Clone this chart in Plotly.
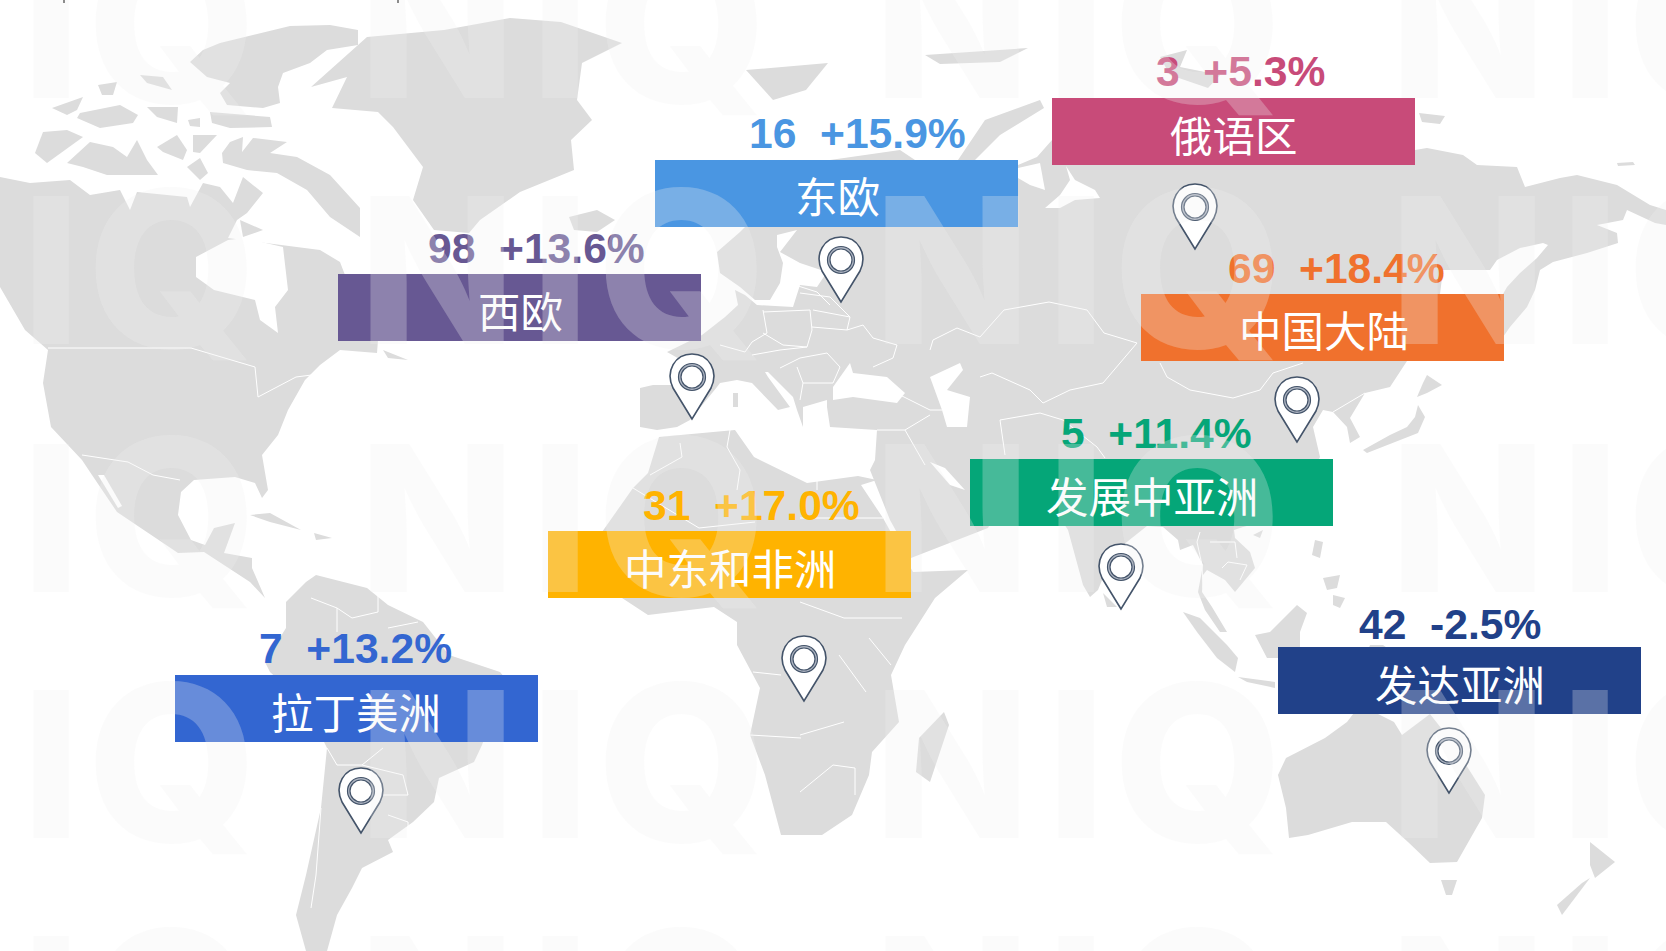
import plotly.graph_objects as go

W, H = 1666, 951

# ---------- chart values ----------
REGIONS = ["俄语区", "东欧", "西欧", "中国大陆", "发展中亚洲", "中东和非洲", "拉丁美洲", "发达亚洲"]
COUNTS = [3, 16, 98, 69, 5, 31, 7, 42]
GROWTH = ["+5.3%", "+15.9%", "+13.6%", "+18.4%", "+11.4%", "+17.0%", "+13.2%", "-2.5%"]
COLORS = ["#C84B79", "#4A96E2", "#675893", "#F0712D", "#05A678", "#FFB300", "#3366D1", "#214189"]

# ---------- placement ----------
BOX_LEFT = [1052, 655, 338, 1141, 970, 548, 175, 1278]
BOX_TOP = [98, 160, 274, 294, 459, 531, 675, 647]
BOX_W, BOX_H = 363, 67
VALUE_X = [1240, 857, 536, 1336, 1156, 751, 355, 1450]
VALUE_Y = [71, 133, 248, 268, 433, 505, 648, 624]
NAME_X = [1234, 837, 520, 1324, 1152, 730, 356, 1460]
NAME_Y = [133, 194, 309, 328, 494, 566, 710, 682]
PIN_X = [1195, 841, 692, 1297, 1121, 804, 361, 1449]
PIN_Y = [249, 302, 419, 442, 609, 701, 833, 793]

# ---------- map background (land, drawn in the picture's own pixel space) ----------
LAND = {
    "north_america": [(0,177),(30,183),(70,180),(90,195),(120,190),(130,210),(137,192),(187,197),(190,207),(203,183),(220,187),(233,203),(243,177),(263,193),(247,213),(237,220),(228,238),(283,245),(320,250),(340,262),(345,275),(338,300),(378,340),(377,353),(340,350),(320,365),(305,380),(288,410),(278,435),(262,455),(268,490),(262,498),(255,483),(235,477),(194,480),(181,492),(178,515),(191,540),(205,545),(214,528),(235,523),(224,553),(252,558),(252,568),(265,598),(250,582),(204,552),(178,553),(140,528),(117,512),(92,475),(82,460),(51,427),(43,383),(48,350),(25,330),(0,287)],
    "greenland": [(311,87),(367,37),(444,30),(510,18),(561,22),(622,43),(582,63),(577,100),(592,120),(571,140),(574,170),(520,192),(480,220),(469,233),(434,230),(413,200),(423,167),(393,127),(378,112),(332,108),(347,77)],
    "iceland": [(569,217),(597,210),(615,220),(597,232),(574,230)],
    "ellesmere": [(190,62),(203,50),(220,43),(260,33),(290,26),(330,25),(358,30),(358,45),(327,50),(310,63),(283,73),(278,87),(280,103),(263,108),(227,105),(220,93),(230,83),(207,77)],
    "devon": [(210,112),(270,117),(272,127),(230,128),(212,123)],
    "arctic_a": [(140,75),(163,77),(172,90),(147,83)],
    "arctic_b": [(52,108),(83,97),(77,110),(67,115)],
    "arctic_c": [(80,113),(120,105),(138,115),(133,123),(100,128),(77,118)],
    "arctic_d": [(147,107),(178,107),(177,123),(157,117)],
    "arctic_e": [(188,120),(200,118),(200,127),(190,126)],
    "arctic_f": [(98,85),(117,82),(113,95),(102,95)],
    "banks": [(35,153),(43,132),(67,130),(83,137),(47,163)],
    "victoria": [(67,163),(90,142),(113,147),(127,157),(137,140),(147,160),(158,175),(107,175),(83,167)],
    "prince_of_wales": [(157,147),(177,135),(187,150),(183,160),(163,152)],
    "somerset": [(193,135),(217,135),(200,153),(193,152)],
    "king_william": [(187,167),(200,158),(208,173),(200,180)],
    "baffin": [(242,152),(253,138),(287,142),(270,153),(297,157),(330,175),(360,208),(360,237),(330,217),(307,190),(277,173),(247,170),(223,163),(222,153),(230,142),(243,137)],
    "newfoundland": [(383,350),(408,360),(388,358)],
    "cuba": [(250,515),(270,513),(301,530),(270,522)],
    "hispaniola": [(314,533),(332,538),(316,540)],
    "south_america": [(306,582),(316,575),(367,588),(388,605),(423,622),(449,655),(500,672),(505,678),(482,745),(474,762),(439,778),(434,802),(413,822),(388,840),(393,852),(362,868),(352,888),(337,915),(327,951),(306,951),(296,915),(306,875),(321,808),(327,748),(306,705),(270,672),(265,662),(286,628),(286,602)],
    "africa": [(648,473),(659,437),(735,430),(754,457),(807,483),(858,476),(877,480),(861,485),(883,518),(913,572),(968,570),(935,598),(905,645),(891,675),(899,722),(872,752),(869,775),(852,815),(822,835),(781,835),(765,775),(750,735),(760,688),(737,645),(737,622),(714,607),(648,615),(622,598),(602,532),(633,488)],
    "eurasia": [(657,430),(640,427),(640,388),(653,385),(700,385),(690,365),(667,352),(702,335),(725,317),(738,305),(735,290),(745,295),(757,305),(793,307),(800,285),(817,287),(827,272),(800,263),(780,252),(797,230),(777,235),(777,247),(783,263),(780,283),(770,300),(755,300),(740,287),(720,273),(717,252),(740,232),(757,215),(830,160),(900,150),(930,170),(1018,165),(1037,157),(1052,140),(1300,110),(1415,150),(1427,148),(1463,155),(1477,165),(1517,167),(1525,187),(1560,178),(1577,175),(1617,185),(1650,205),(1666,210),(1666,225),(1655,223),(1627,210),(1623,220),(1597,225),(1617,233),(1618,243),(1587,253),(1553,262),(1540,270),(1535,290),(1527,307),(1510,327),(1503,337),(1407,361),(1390,387),(1365,393),(1350,418),(1360,437),(1350,443),(1347,427),(1333,412),(1323,410),(1313,427),(1320,457),(1300,500),(1270,520),(1243,527),(1234,530),(1235,538),(1250,552),(1255,568),(1243,582),(1235,592),(1225,580),(1207,570),(1203,575),(1202,592),(1212,607),(1227,632),(1220,632),(1205,610),(1198,592),(1203,565),(1193,545),(1180,550),(1178,540),(1163,527),(1147,526),(1113,553),(1098,590),(1090,597),(1083,585),(1068,530),(1055,510),(1010,480),(1000,505),(988,528),(911,558),(890,520),(870,470),(875,460),(877,430),(830,427),(827,407),(827,400),(803,407),(803,427),(797,410),(793,397),(768,372),(765,372),(768,377),(790,407),(778,410),(773,405),(752,383),(737,380),(720,383),(717,387),(690,420),(677,427)],
    "novaya_zemlya": [(958,160),(985,120),(1040,100),(1044,108),(1000,135),(975,160)],
    "svalbard": [(746,70),(828,63),(806,90),(773,100)],
    "franz_josef": [(925,55),(1028,48),(1000,62),(940,64)],
    "siberian_isle": [(1160,57),(1187,50),(1180,67),(1220,75),(1208,88),(1170,75)],
    "arctic_east_a": [(1419,113),(1445,116),(1440,124),(1422,122)],
    "arctic_east_b": [(1617,163),(1633,162),(1635,165),(1618,166)],
    "hokkaido": [(1427,375),(1442,385),(1427,393),(1417,397),(1423,383)],
    "honshu": [(1418,405),(1425,417),(1418,433),(1393,443),(1367,453),(1363,450),(1390,435),(1407,427),(1415,417)],
    "hainan": [(1253,535),(1263,530),(1260,538)],
    "luzon": [(1315,540),(1323,542),(1320,558),(1312,555)],
    "visayas": [(1323,578),(1340,575),(1337,588),(1327,590)],
    "mindanao": [(1333,595),(1345,598),(1340,608),(1333,605)],
    "borneo": [(1255,635),(1270,632),(1297,605),(1307,613),(1300,632),(1300,655),(1278,658),(1267,658)],
    "sumatra": [(1183,612),(1200,618),(1227,645),(1238,658),(1235,672),(1217,658),(1197,632)],
    "java": [(1238,677),(1275,682),(1275,688),(1247,682)],
    "new_guinea": [(1370,645),(1383,645),(1390,650),(1368,650)],
    "sri_lanka": [(1103,593),(1117,607),(1107,607)],
    "madagascar": [(944,712),(949,725),(930,782),(916,772),(919,738)],
    "australia": [(1278,775),(1286,758),(1325,738),(1347,722),(1360,705),(1394,722),(1402,735),(1430,714),(1441,728),(1468,768),(1485,795),(1482,818),(1457,862),(1430,863),(1408,842),(1386,822),(1352,822),(1308,835),(1289,838),(1286,808)],
    "tasmania": [(1441,880),(1457,880),(1452,895),(1446,895)],
    "nz_north": [(1590,842),(1615,862),(1595,878),(1590,865)],
    "nz_south": [(1590,878),(1562,915),(1557,905),(1582,883)],
    "sardinia": [(733,393),(738,393),(738,407),(733,407)],
}
WATER = {
    "hudson_bay": [(196,257),(228,240),(245,238),(283,247),(288,290),(275,307),(278,333),(260,320),(255,300),(214,290),(196,277)],
    "gulf_of_california": [(98,475),(118,508),(122,506),(104,475)],
    "okhotsk": [(1443,270),(1490,270),(1497,260),(1520,248),(1543,243),(1548,245),(1537,258),(1520,273),(1507,287),(1503,294),(1440,294)],
    "black_sea": [(833,387),(850,363),(853,373),(887,377),(905,393),(897,403),(853,397),(833,400)],
    "caspian": [(930,377),(960,363),(963,370),(947,390),(970,397),(967,427),(947,427),(942,410)],
    "persian_gulf": [(930,462),(945,468),(965,490),(950,485)],
    "ob_gulf": [(1066,166),(1075,180),(1095,190),(1100,198),(1075,200),(1060,208),(1045,208),(1060,195),(1070,180)],
    "kara": [(1018,168),(1040,163),(1045,190),(1030,185),(1018,178)],
}
ISLANDS_ON_WATER = {
    "southampton": [(240,220),(263,230),(243,237)],
}
BORDERS = [
    [(48,348),(191,348),(255,367),(258,397),(296,377),(327,373)],
    [(82,455),(128,462),(153,475),(180,480)],
    [(311,598),(337,608),(337,632)], [(337,608),(352,618),(378,612),(378,595)], [(388,628),(418,622)],
    [(321,808),(316,875),(311,908)], [(327,748),(337,765),(362,765),(383,748)],
    [(362,765),(403,775),(408,795),(383,795)], [(388,815),(408,822),(408,838)],
    [(817,463),(817,490)], [(800,518),(883,518)], [(730,430),(727,447),(740,470),(737,490)],
    [(680,443),(682,457),(650,475)], [(800,602),(844,618),(902,618)], [(869,638),(891,665)],
    [(839,655),(866,692)], [(800,735),(844,722)], [(800,792),(833,765),(855,768),(855,795)],
    [(753,672),(781,675)], [(750,735),(801,738)], [(628,485),(699,528),(755,522)],
    [(763,310),(767,333),(752,342)], [(763,312),(810,310),(812,330),(807,347),(783,345),(763,333)],
    [(812,327),(847,330),(863,325),(873,338),(897,345),(893,358),(873,367)], [(813,310),(850,317),(847,330)],
    [(800,358),(827,353),(840,367),(833,383),(803,383),(797,367)], [(720,345),(745,352),(752,342)],
    [(752,355),(780,350),(807,347)], [(780,368),(800,358)], [(803,383),(800,400)],
    [(795,285),(817,292),(830,305)], [(800,293),(830,297),(850,317)],
    [(900,395),(930,410),(942,410)], [(877,430),(905,430),(925,465)], [(905,430),(930,415)],
    [(930,350),(933,340),(957,328),(980,337),(1004,310),(1049,302),(1087,310),(1104,333),(1137,343)],
    [(980,377),(992,373),(1030,390),(1043,403),(1070,390),(1103,383),(1120,363),(1137,343)],
    [(1160,363),(1167,377),(1190,390),(1233,398),(1260,390),(1273,373),(1303,363)],
    [(1040,413),(1063,420),(1097,447),(1105,458)], [(1000,420),(1040,413)], [(1000,420),(1005,455)],
    [(1365,393),(1333,412)],
    [(1200,532),(1197,542),(1202,565),(1203,588)], [(1210,542),(1235,542),(1237,558)],
    [(1222,568),(1228,562),(1247,565),(1240,580)],
]
TOP_TICKS = [64, 398]

# ---------- watermark ----------
MARK_ROWS = [24, 269, 517, 763, 1009]
MARK_LETTERS = {"N": [-75, 437, 952, 1468], "I": [51, 560, 1076, 1590], "Q": [172, 682, 1198, 1712]}
MARK_SIZE = {"N": 204, "I": 204, "Q": 218}

fig = go.Figure()


def outline(points):
    return [p[0] for p in points] + [points[0][0]], [p[1] for p in points] + [points[0][1]]


def add_area(pts, name, color):
    xs, ys = outline(pts)
    fig.add_trace(go.Scatter(x=xs, y=ys, mode="lines", fill="toself", fillcolor=color,
                             line=dict(width=0, color=color), name=name, hoverinfo="skip"))


for name, pts in LAND.items():
    add_area(pts, name, "#DCDCDC")
for name, pts in WATER.items():
    add_area(pts, name, "#FFFFFF")
for name, pts in ISLANDS_ON_WATER.items():
    add_area(pts, name, "#DCDCDC")
for pts in BORDERS:
    fig.add_trace(go.Scatter(x=[p[0] for p in pts], y=[p[1] for p in pts], mode="lines",
                             line=dict(width=1, color="#FFFFFF"), hoverinfo="skip"))

shapes = []
for tx in TOP_TICKS:
    shapes.append(dict(type="line", xref="x", yref="y", x0=tx, x1=tx, y0=0, y1=3,
                       line=dict(color="#666666", width=2), layer="above"))
for left, top, color in zip(BOX_LEFT, BOX_TOP, COLORS):
    shapes.append(dict(type="rect", xref="x", yref="y", x0=left, x1=left + BOX_W, y0=top, y1=top + BOX_H,
                       fillcolor=color, line=dict(width=0), layer="above"))
PIN_COLOR = "#44546A"
for tx, ty in zip(PIN_X, PIN_Y):
    path = (f"M {tx},{ty} L {tx-19},{ty-31} C {tx-27},{ty-48} {tx-17},{ty-65} {tx},{ty-65} "
            f"C {tx+17},{ty-65} {tx+27},{ty-48} {tx+19},{ty-31} Z")
    shapes.append(dict(type="path", xref="x", yref="y", path=path, fillcolor="#FFFFFF",
                       line=dict(color=PIN_COLOR, width=1.6), layer="above"))
    for r, fill in ((13.5, "#AEB5C2"), (11, "#FFFFFF")):
        shapes.append(dict(type="circle", xref="x", yref="y", x0=tx - r, x1=tx + r, y0=ty - 42 - r, y1=ty - 42 + r,
                           fillcolor=fill, line=dict(color=PIN_COLOR, width=1.2), layer="above"))

annotations = []
for region, count, growth, color, vx, vy, nx, ny in zip(REGIONS, COUNTS, GROWTH, COLORS, VALUE_X, VALUE_Y, NAME_X, NAME_Y):
    annotations.append(dict(x=vx, y=vy, xref="x", yref="y", text=f"{count}\u00a0\u00a0{growth}", showarrow=False,
                            xanchor="center", yanchor="middle",
                            font=dict(family="Liberation Sans", size=42.6, color=color, weight="bold")))
    annotations.append(dict(x=nx, y=ny, xref="x", yref="y", text=region, showarrow=False,
                            xanchor="center", yanchor="middle",
                            font=dict(family="Noto Sans CJK SC", size=42.5, color="#FFFFFF")))
for row in MARK_ROWS:
    for letter, centres in MARK_LETTERS.items():
        for cx in centres:
            annotations.append(dict(x=cx / W, y=1 - row / H, xref="paper", yref="paper", text=letter, showarrow=False,
                                    xanchor="center", yanchor="middle",
                                    font=dict(family="Inter", size=MARK_SIZE[letter],
                                              color="rgba(240,240,240,0.28)", weight=800)))

fig.update_layout(
    width=W, height=H, margin=dict(l=0, r=0, t=0, b=0), showlegend=False,
    paper_bgcolor="#FFFFFF", plot_bgcolor="#FFFFFF",
    xaxis=dict(range=[0, W], visible=False, fixedrange=True),
    yaxis=dict(range=[H, 0], visible=False, fixedrange=True),
    shapes=shapes, annotations=annotations,
)
fig.write_html("out.html", config={"displayModeBar": False},
               post_script="document.body.style.margin='0';document.body.style.overflow='hidden';")
